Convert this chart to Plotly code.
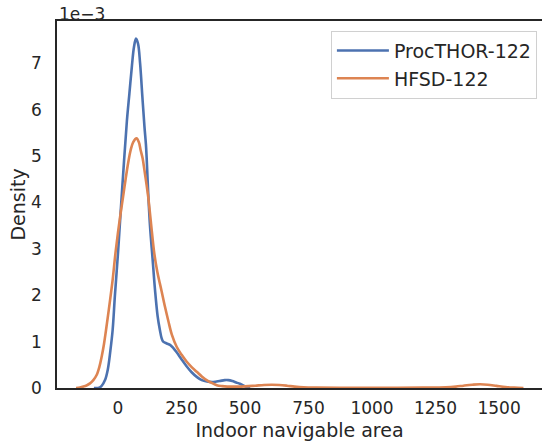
import plotly.graph_objects as go

# KDE curves (density in units of 1e-3)
procthor_area = [-95, -78, -65, -51, -40, -30, -21, -12, 0, 10, 24, 35, 45, 55, 63, 71, 79, 87,
                 96, 104, 110, 113, 119, 126, 136, 146, 156, 165, 172, 178, 192, 205, 218, 231,
                 250, 270, 290, 310, 330, 350, 375, 400, 420, 434, 450, 465, 480, 495, 507, 520]
procthor_density = [0, 0.0, 0.04, 0.17, 0.40, 0.80, 1.25, 2.0, 2.9, 3.75, 4.9, 5.75, 6.35, 6.95,
                    7.35, 7.53, 7.42, 7.0, 6.28, 5.65, 5.25, 4.95, 4.2, 3.5, 2.8, 2.1, 1.55, 1.25,
                    1.07, 1.0, 0.96, 0.93, 0.86, 0.77, 0.62, 0.47, 0.34, 0.24, 0.17, 0.14, 0.13,
                    0.15, 0.17, 0.17, 0.15, 0.12, 0.09, 0.05, 0.02, 0]

hfsd_area = [-165, -150, -136, -122, -110, -97, -84, -73, -64, -55, -47, -39, -31, -21, -10, 0, 10,
             20, 30, 40, 50, 60, 73, 82, 89, 97, 104, 112, 119, 130, 143, 155, 165, 172, 185, 198,
             212, 231, 250, 270, 290, 310, 330, 349, 369, 389, 410, 430, 460, 500, 540, 575, 605,
             635, 665, 695, 730, 780, 900, 1050, 1200, 1290, 1330, 1360, 1395, 1425, 1455, 1490,
             1525, 1560, 1596]
hfsd_density = [0, 0.01, 0.03, 0.06, 0.10, 0.17, 0.28, 0.46, 0.68, 0.95, 1.25, 1.57, 1.90, 2.33,
                2.9, 3.35, 3.75, 4.12, 4.5, 4.85, 5.13, 5.3, 5.38, 5.3, 5.13, 4.95, 4.70, 4.4, 4.12,
                3.55, 2.9, 2.5, 2.25, 2.08, 1.75, 1.45, 1.15, 0.89, 0.72, 0.57, 0.45, 0.35, 0.25,
                0.17, 0.11, 0.06, 0.04, 0.03, 0.03, 0.035, 0.05, 0.065, 0.07, 0.065, 0.05, 0.03,
                0.015, 0.008, 0.005, 0.005, 0.008, 0.015, 0.03, 0.05, 0.07, 0.08, 0.07, 0.045,
                0.02, 0.008, 0]

x_ticks = [0, 250, 500, 750, 1000, 1250, 1500]
y_ticks = [0, 1, 2, 3, 4, 5, 6, 7]

FONT = 'DejaVu Sans'
TEXT = '#262626'

fig = go.Figure()
fig.add_trace(go.Scatter(x=procthor_area, y=procthor_density, mode='lines', name='ProcTHOR-122',
                         line=dict(color='#4C72B0', width=2.6, shape='spline', smoothing=1)))
fig.add_trace(go.Scatter(x=hfsd_area, y=hfsd_density, mode='lines', name='HFSD-122',
                         line=dict(color='#DD8452', width=2.6, shape='spline', smoothing=1)))

axis_common = dict(showgrid=False, zeroline=False, showline=True, linecolor=TEXT, linewidth=1.6,
                   ticks='', tickfont=dict(family=FONT, size=17, color=TEXT))
# x axis mirrored for the top spine; the right spine falls outside the reference crop
fig.update_xaxes(range=[-240, 1669], tickvals=x_ticks, ticklabelstandoff=4, mirror=True,
                 title=dict(text='Indoor navigable area', font=dict(family=FONT, size=19, color=TEXT),
                            standoff=6),
                 **axis_common)
fig.update_yaxes(range=[0, 7.91], tickvals=y_ticks, ticklabelstandoff=10, mirror=False,
                 title=dict(text='Density', font=dict(family=FONT, size=19, color=TEXT), standoff=0),
                 **axis_common)

fig.add_annotation(text='1e\u22123', xref='paper', yref='paper', x=0, y=1, xanchor='left',
                   yanchor='bottom', showarrow=False, yshift=-5,
                   font=dict(family=FONT, size=17, color=TEXT))

fig.update_layout(width=542, height=444, margin=dict(l=57, r=0, t=21, b=56),
                  plot_bgcolor='white', paper_bgcolor='white',
                  font=dict(family=FONT, color=TEXT),
                  legend=dict(x=0.9895, y=0.9736, xanchor='right', yanchor='top',
                              bgcolor='white', bordercolor='#d0d0d0', borderwidth=1,
                              font=dict(family=FONT, size=19, color=TEXT), itemwidth=52))

# drop the default page margin so the figure sits at the window's top-left corner
fig.write_html('out.html', config={'displayModeBar': False},
               post_script="document.body.style.margin='0';")
